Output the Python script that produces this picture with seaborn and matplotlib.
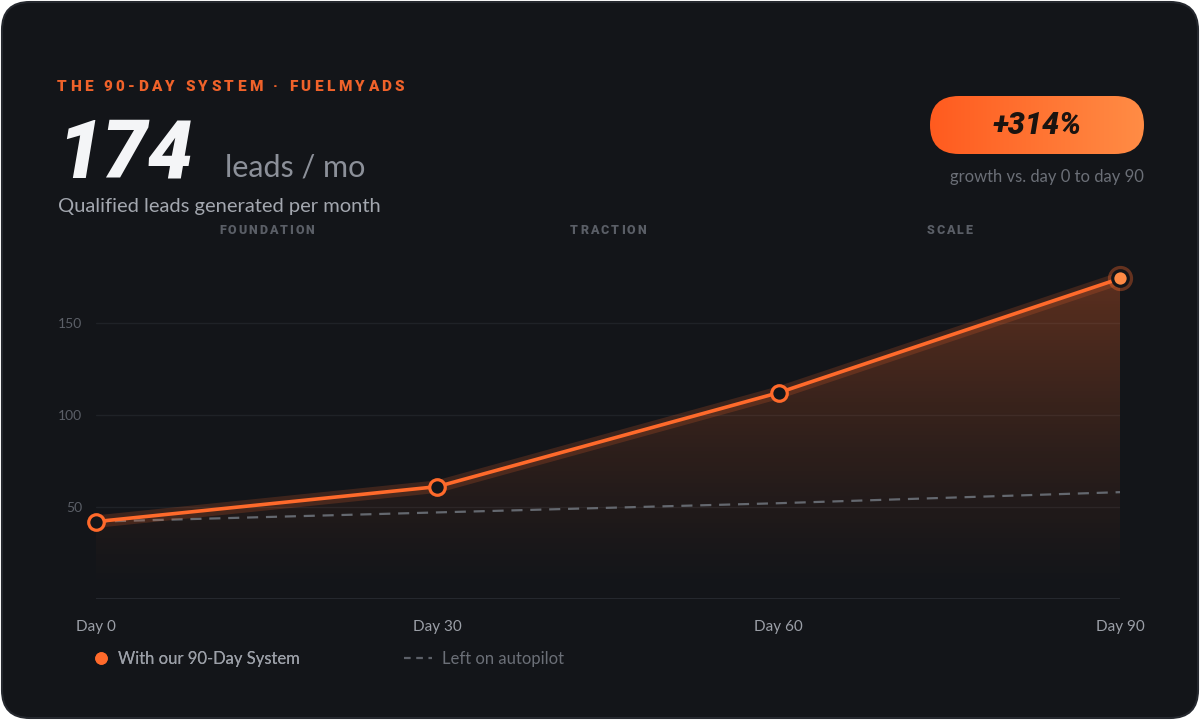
import numpy as np
import pandas as pd
import seaborn as sns
import matplotlib.pyplot as plt
from matplotlib.patches import FancyBboxPatch
from matplotlib.lines import Line2D

# %% data
days = [0, 30, 60, 90]
day_labels = ["Day 0", "Day 30", "Day 60", "Day 90"]
system_leads = [42, 61, 112, 174]
autopilot_leads = [42, 47, 52, 58]
phases = ["FOUNDATION", "TRACTION", "SCALE"]
y_ticks = [50, 100, 150]
series_names = ["With our 90-Day System", "Left on autopilot"]

df = pd.DataFrame({"day": days, "system": system_leads, "autopilot": autopilot_leads})

BG = "#131519"
ORANGE = "#ff6a2b"
W, H = 1200, 720

sns.set_theme(style="dark")
plt.rcParams["font.family"] = ["Lato", "DejaVu Sans"]
HEAVY = ["Roboto", "DejaVu Sans"]

fig = plt.figure(figsize=(12, 7.2), dpi=100, facecolor="white")
fx = lambda px: px / W
fy = lambda py: 1 - py / H

# card background
card = FancyBboxPatch((0.02, 0.02), 11.96, 7.16, boxstyle="round,pad=0,rounding_size=0.28",
                      transform=fig.dpi_scale_trans, fc=BG, ec="#25282e", lw=1.5, zorder=0)
fig.add_artist(card)

# %% chart
ax = fig.add_axes([fx(96), fy(599), fx(1120) - fx(96), fy(249) - fy(599)])
ax.set_facecolor("none")

# gradient area under the system line
poly = ax.fill_between(df["day"], df["system"], 0, color="none", lw=0)
v = np.linspace(0, 1, 256)
grad = np.zeros((256, 1, 4))
grad[:, 0, 0] = 1.0
grad[:, 0, 1] = 0.42
grad[:, 0, 2] = 0.17
grad[:, 0, 3] = 0.31 * v ** 1.3
im = ax.imshow(grad, extent=[min(days), max(days), 0, max(system_leads)], origin="lower",
               aspect="auto", zorder=1, interpolation="bilinear")
im.set_clip_path(poly.get_paths()[0], transform=ax.transData)

sns.lineplot(data=df, x="day", y="autopilot", ax=ax, color="#64686f", lw=1.6,
             linestyle=(0, (5, 3.5)), zorder=2)
sns.lineplot(data=df, x="day", y="system", ax=ax, color=ORANGE, lw=9, alpha=0.18, zorder=3)
sns.lineplot(data=df, x="day", y="system", ax=ax, color=ORANGE, lw=2.6, zorder=4)

sns.scatterplot(data=df.iloc[:-1], x="day", y="system", ax=ax, s=125, color=BG,
                edgecolor=ORANGE, linewidth=2.3, zorder=5, clip_on=False)
sns.scatterplot(data=df.iloc[[-1]], x="day", y="system", ax=ax, s=330, color=ORANGE,
                alpha=0.35, linewidth=0, zorder=5, clip_on=False)
sns.scatterplot(data=df.iloc[[-1]], x="day", y="system", ax=ax, s=125, color="#ff8a45",
                edgecolor=BG, linewidth=2.3, zorder=6, clip_on=False)

ax.set_xlim(min(days), max(days))
ax.set_ylim(0, 190)
ax.set_xticks(days)
ax.set_xticklabels(day_labels)
ax.set_yticks(y_ticks)
ax.set_xlabel("")
ax.set_ylabel("")
ax.tick_params(axis="x", labelcolor="#9b9fa7", labelsize=11, pad=15, length=0)
ax.tick_params(axis="y", labelcolor="#5b5f67", labelsize=10, pad=10, length=0)
ax.grid(axis="y", color="#1f2227", lw=1)
ax.grid(axis="x", visible=False)
ax.axhline(0, color="#282b31", lw=1.3, zorder=1)
sns.despine(ax=ax, left=True, bottom=True)


# %% letter-spaced text
def spaced_text(px, py, text, track, ha="left", **kw):
    r = fig.canvas.get_renderer()

    def width(s):
        t = fig.text(0, 0, s, **kw)
        w = t.get_window_extent(r).width
        t.remove()
        return w

    base = width("xx")
    widths = [width("x" + c + "x") - base for c in text]
    total = sum(widths) + track * (len(text) - 1)
    x = px - total / 2 if ha == "center" else px
    for c, cw in zip(text, widths):
        fig.text(fx(x), fy(py), c, ha="left", va="center", **kw)
        x += cw + track


spaced_text(57, 87, "THE 90-DAY SYSTEM · FUELMYADS", 3.4, fontsize=11, weight="heavy",
            family=HEAVY, color="#f0622a")

for i, name in enumerate(phases):
    mid = (days[i] + days[i + 1]) / 2
    px = ax.transData.transform((mid, 0))[0]
    spaced_text(px, 231, name, 2.0, ha="center", fontsize=9, weight="heavy", family=HEAVY,
                color="#5a5e66")

# header
fig.text(fx(57), fy(178), f"{system_leads[-1]}", fontsize=58, weight="black", style="italic",
         family=HEAVY, color="#f4f5f7", va="baseline")
fig.text(fx(225), fy(176), "leads / mo", fontsize=22, color="#8c9099", va="baseline")
fig.text(fx(58), fy(212), "Qualified leads generated per month", fontsize=14.5, color="#a3a7af",
         va="baseline")

# growth badge
growth = (system_leads[-1] - system_leads[0]) / system_leads[0] * 100
bx = fig.add_axes([fx(930), fy(154), fx(1144) - fx(930), fy(96) - fy(154)])
bx.set_axis_off()
pill = FancyBboxPatch((9.30, 7.2 - 1.54), 2.14, 0.58, boxstyle="round,pad=0,rounding_size=0.29",
                      transform=fig.dpi_scale_trans, fc="none", ec="none")
g = np.zeros((1, 256, 4))
t = np.linspace(0, 1, 256)
g[0, :, 0] = 1.0
g[0, :, 1] = (91 + (140 - 91) * t) / 255
g[0, :, 2] = (31 + (69 - 31) * t) / 255
g[0, :, 3] = 1.0
bim = bx.imshow(g, extent=[0, 1, 0, 1], aspect="auto", interpolation="bilinear")
bim.set_clip_path(pill)
fig.text(fx(1037), fy(125), f"+{growth:.0f}%", fontsize=22, weight="black", style="italic",
         family=HEAVY, color="#1b1410", ha="center", va="center")
fig.text(fx(1144), fy(177), "growth vs. day 0 to day 90", fontsize=12, color="#6b6f77",
         ha="right", va="center")

# %% legend
h1 = Line2D([], [], ls="", marker="o", markersize=8, color=ORANGE)
h2 = Line2D([], [], ls=(0, (3, 2.5)), lw=1.6, color="#5c6068")
leg1 = fig.legend([h1], [series_names[0]], loc="center left", bbox_to_anchor=(fx(95), fy(659)),
                  frameon=False, fontsize=12, handlelength=0.75, handletextpad=0.6,
                  borderpad=0, borderaxespad=0)
leg1.get_texts()[0].set_color("#9b9fa7")
leg2 = fig.legend([h2], [series_names[1]], loc="center left", bbox_to_anchor=(fx(404), fy(659)),
                  frameon=False, fontsize=12, handlelength=1.65, handletextpad=0.6,
                  borderpad=0, borderaxespad=0)
leg2.get_texts()[0].set_color("#6b6f77")
fig.add_artist(leg1)

fig.savefig("out.png", dpi=100, facecolor="white")
